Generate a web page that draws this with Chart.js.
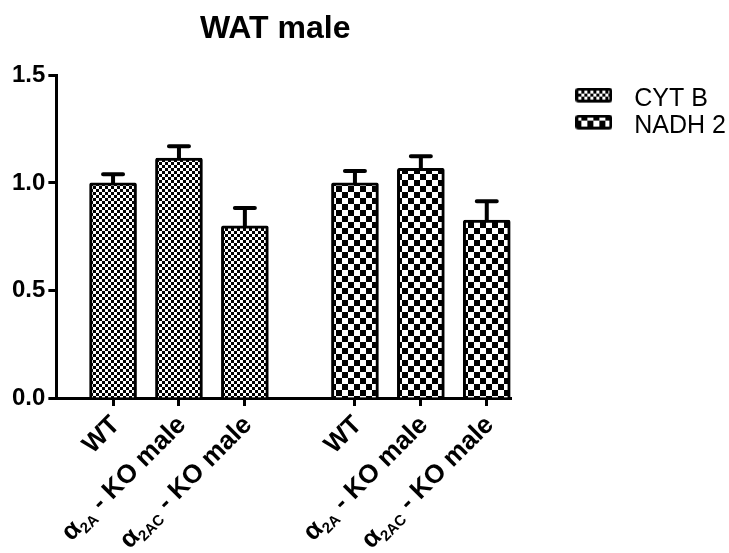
<!DOCTYPE html>
<html>
<head>
<meta charset="utf-8">
<title>WAT male</title>
<script src="https://cdn.jsdelivr.net/npm/chart.js@4"></script>
<style>
  html, body { margin: 0; padding: 0; background: #fff; }
  #wrap { width: 729px; height: 553px; }
</style>
</head>
<body>
<div id="wrap"><canvas id="chart"></canvas></div>
<script>
const categories = ['WT', 'α2A - KO male', 'α2AC - KO male'];
const seriesNames = ['CYT B', 'NADH 2'];
const cytB = [1.00, 1.115, 0.80];
const cytBSem = [0.04, 0.056, 0.083];
const nadh2 = [1.00, 1.068, 0.827];
const nadh2Sem = [0.056, 0.056, 0.088];
const yTicks = [0, 0.5, 1.0, 1.5];

const FONT = "'Liberation Sans', Arial, sans-serif";
const GROUP_GAP = 0.67; // extra space between the two groups, in bar slots
const LABEL_ANGLE = 45;

Chart.defaults.font.family = FONT;
Chart.defaults.color = '#000';

// black/white checkerboard fill
function checker(cell) {
  const c = document.createElement('canvas');
  c.width = c.height = cell * 2;
  const g = c.getContext('2d');
  g.fillStyle = '#000';
  g.fillRect(0, 0, cell * 2, cell * 2);
  g.fillStyle = '#fff';
  g.fillRect(0, 0, cell, cell);
  g.fillRect(cell, cell, cell, cell);
  return g.createPattern(c, 'repeat');
}

// legend swatch, box sits in the upper part so it lines up like the original
function swatch(cell) {
  const c = document.createElement('canvas');
  c.width = 37;
  c.height = 23;
  const g = c.getContext('2d');
  g.fillStyle = checker(cell);
  g.strokeStyle = '#000';
  g.lineWidth = 3;
  g.beginPath();
  g.roundRect(1.5, 1.5, 34, 12, 2);
  g.fill();
  g.stroke();
  return c;
}

const cells = [3, 6];
const series = [cytB, nadh2];
const sems = [cytBSem, nadh2Sem];
const swatches = cells.map(swatch);
const pos = (g, i) => g * (categories.length + GROUP_GAP) + i;
const tickPositions = series.flatMap((s, g) => s.map((_, i) => pos(g, i)));
const tickLabels = series.flatMap(() => categories);

// "α2A - KO male" -> alpha, subscript, rest
function splitLabel(label) {
  const m = label.match(/^α(\w+)(.*)$/);
  if (!m) return [{ t: label, size: 26, dy: 0 }];
  return [
    { t: 'α', size: 26, dy: 0 },
    { t: m[1], size: 15, dy: 5 },
    { t: m[2], size: 26, dy: 0 },
  ];
}

const errorBars = {
  id: 'errorBars',
  afterDatasetsDraw(chart) {
    const { ctx, scales: { y } } = chart;
    ctx.save();
    ctx.strokeStyle = '#000';
    ctx.lineWidth = 4;
    ctx.lineCap = 'round';
    chart.data.datasets.forEach((ds, d) => {
      chart.getDatasetMeta(d).data.forEach((bar, i) => {
        const top = y.getPixelForValue(ds.data[i].y + sems[d][i]);
        ctx.beginPath();
        ctx.moveTo(bar.x, bar.y);
        ctx.lineTo(bar.x, top);
        ctx.moveTo(bar.x - 10, top);
        ctx.lineTo(bar.x + 10, top);
        ctx.stroke();
      });
    });
    ctx.restore();
  },
};

const xLabels = {
  id: 'xLabels',
  afterDraw(chart) {
    const { ctx, scales: { x }, chartArea } = chart;
    ctx.save();
    ctx.fillStyle = '#000';
    ctx.textBaseline = 'alphabetic';
    ctx.textAlign = 'left';
    tickPositions.forEach((p, k) => {
      const parts = splitLabel(tickLabels[k]);
      let w = 0;
      parts.forEach(pt => {
        ctx.font = `bold ${pt.size}px ${FONT}`;
        w += ctx.measureText(pt.t).width;
      });
      ctx.save();
      ctx.translate(x.getPixelForValue(p) + 8, chartArea.bottom + 28);
      ctx.rotate(-LABEL_ANGLE * Math.PI / 180);
      let cx = -w;
      parts.forEach(pt => {
        ctx.font = `bold ${pt.size}px ${FONT}`;
        ctx.fillText(pt.t, cx, pt.dy);
        cx += ctx.measureText(pt.t).width;
      });
      ctx.restore();
    });
    ctx.restore();
  },
};

const axisGrid = { drawOnChartArea: false, offset: false, tickLength: 8, tickWidth: 3, color: '#000' };
const axisBorder = { color: '#000', width: 3 };

new Chart(document.getElementById('chart'), {
  type: 'bar',
  data: {
    datasets: series.map((s, g) => ({
      label: seriesNames[g],
      data: s.map((v, i) => ({ x: pos(g, i), y: v })),
      backgroundColor: checker(cells[g]),
      borderColor: '#000',
      borderWidth: 3,
      borderRadius: 2,
      barThickness: 47,
      grouped: false,
    })),
  },
  options: {
    responsive: true,
    maintainAspectRatio: false,
    animation: false,
    layout: { padding: { left: 9, right: -7, top: 0, bottom: 147 } },
    plugins: {
      title: {
        display: true,
        text: 'WAT male  ',
        fullSize: false,
        color: '#000',
        font: { size: 32, weight: 'bold' },
        padding: { top: 10, bottom: 27 },
      },
      legend: {
        position: 'right',
        align: 'start',
        fullSize: false,
        maxWidth: 240,
        title: { display: true, text: '', font: { size: 1 }, padding: { top: 8, bottom: 0 } },
        labels: {
          usePointStyle: true,
          pointStyleWidth: 56,
          boxHeight: 13,
          padding: 2,
          color: '#000',
          font: { size: 25, lineHeight: 1 },
          generateLabels: chart => Chart.defaults.plugins.legend.labels
            .generateLabels(chart)
            .map((item, i) => ({ ...item, pointStyle: swatches[i] })),
        },
      },
      tooltip: { enabled: false },
    },
    scales: {
      x: {
        type: 'linear',
        min: pos(0, 0) - 0.86,
        max: pos(1, 2) + 0.38,
        offset: false,
        afterBuildTicks: s => { s.ticks = tickPositions.map(v => ({ value: v })); },
        ticks: { display: false },
        grid: axisGrid,
        border: axisBorder,
      },
      y: {
        min: 0,
        max: 1.5,
        afterBuildTicks: s => { s.ticks = yTicks.map(v => ({ value: v })); },
        ticks: {
          color: '#000',
          font: { size: 24, weight: 'bold' },
          padding: 3,
          callback: v => v.toFixed(1),
        },
        grid: axisGrid,
        border: axisBorder,
      },
      spacer: {
        type: 'linear',
        position: 'right',
        grid: { display: false },
        border: { display: false },
        ticks: { display: false },
        afterFit: s => { s.width = 52; },
      },
    },
  },
  plugins: [errorBars, xLabels],
});
</script>
</body>
</html>
